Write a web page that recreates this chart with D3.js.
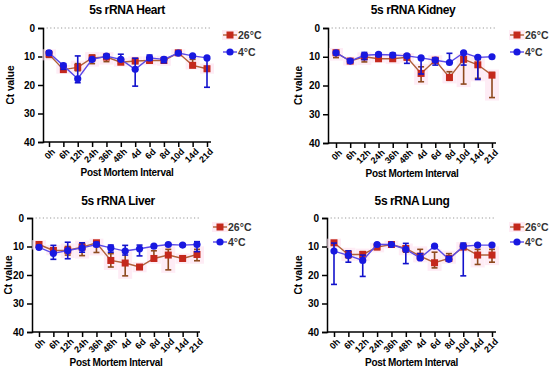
<!DOCTYPE html>
<html>
<head>
<meta charset="utf-8">
<script src="https://cdn.jsdelivr.net/npm/d3@7"></script>
<style>
  body { margin: 0; background: #fff; }
  svg { display: block; font-family: "Liberation Sans", Arial, sans-serif; }
</style>
</head>
<body>
<svg id="chart" width="550" height="371"></svg>
<script>
// categories and ticks
const categories = ['0h', '6h', '12h', '24h', '36h', '48h', '4d', '6d', '8d', '10d', '14d', '21d'];
const yTicks = [0, 10, 20, 30, 40];
const seriesNames = ['26°C', '4°C'];

// heart
const heartWarm = [9.2, 14.6, 13.8, 10.5, 10.2, 12.0, 11.6, 11.4, 11.4, 8.7, 13.1, 14.3];
const heartWarmLo = [8.5, 14.0, 12.5, 9.5, 9.5, 11.5, 11.0, 11.0, 10.8, 8.5, 11.0, 13.5];
const heartWarmHi = [10.3, 15.0, 15.0, 12.5, 11.8, 12.5, 12.0, 12.0, 12.2, 9.0, 13.5, 15.0];
const heartCold = [8.7, 13.2, 17.8, 11.0, 9.9, 11.0, 14.5, 10.5, 11.0, 8.8, 9.8, 10.5];
const heartColdLo = [8.0, 12.5, 9.8, 10.5, 9.3, 9.2, 10.6, 9.5, 10.3, 8.5, 9.5, 10.5];
const heartColdHi = [9.5, 14.5, 19.2, 11.5, 10.5, 11.5, 20.4, 11.3, 12.2, 9.2, 10.2, 20.8];

// kidney
const kidneyWarm = [8.6, 11.5, 10.0, 10.7, 10.7, 10.2, 15.8, 11.2, 17.2, 10.9, 12.8, 16.4];
const kidneyWarmLo = [8.0, 11.0, 9.5, 10.0, 10.0, 9.8, 13.5, 10.5, 15.2, 10.0, 11.0, 15.5];
const kidneyWarmHi = [10.3, 12.0, 11.8, 11.0, 11.5, 11.0, 18.7, 12.0, 18.2, 19.5, 17.5, 24.2];
const kidneyCold = [8.6, 11.5, 9.5, 9.2, 9.4, 9.7, 10.4, 11.2, 12.0, 8.6, 10.2, 10.0];
const kidneyColdLo = [8.2, 11.0, 8.5, 8.7, 8.7, 9.3, 10.4, 10.5, 8.8, 8.3, 10.2, 9.7];
const kidneyColdHi = [9.0, 12.0, 11.0, 9.7, 10.2, 12.3, 16.0, 12.9, 12.0, 12.9, 17.9, 10.3];

// liver
const liverWarm = [9.3, 11.4, 11.3, 10.2, 8.7, 14.9, 15.8, 17.2, 14.2, 13.0, 14.2, 12.8];
const liverWarmLo = [8.8, 10.5, 10.0, 9.0, 8.3, 12.5, 12.0, 16.5, 11.5, 11.0, 13.5, 11.0];
const liverWarmHi = [10.0, 12.0, 13.0, 13.2, 12.1, 17.2, 20.3, 18.0, 15.0, 18.2, 15.0, 15.0];
const liverCold = [10.3, 12.4, 11.4, 10.5, 9.3, 10.5, 11.6, 10.8, 9.9, 9.3, 9.5, 9.3];
const liverColdLo = [9.6, 9.6, 8.5, 8.7, 8.5, 9.5, 9.6, 9.5, 9.6, 9.0, 9.1, 8.3];
const liverColdHi = [10.8, 14.5, 14.3, 12.0, 10.0, 12.0, 13.0, 13.3, 10.2, 9.6, 9.9, 11.8];

// lung
const lungWarm = [8.7, 12.8, 12.8, 10.2, 9.3, 10.7, 13.4, 15.7, 14.2, 10.2, 13.0, 13.0];
const lungWarmLo = [8.3, 11.5, 11.8, 9.8, 9.0, 10.0, 11.0, 12.0, 12.5, 9.5, 11.0, 11.0];
const lungWarmHi = [9.5, 14.0, 14.0, 11.0, 9.6, 12.0, 14.5, 17.5, 15.0, 11.0, 16.3, 15.5];
const lungCold = [11.6, 13.1, 14.9, 9.3, 9.3, 11.0, 14.0, 9.9, 14.5, 9.9, 9.5, 9.5];
const lungColdLo = [8.8, 11.5, 13.0, 9.0, 9.0, 8.9, 12.5, 9.6, 13.5, 8.8, 9.2, 9.2];
const lungColdHi = [23.3, 15.5, 20.5, 9.6, 9.6, 16.0, 14.5, 10.2, 15.0, 20.3, 9.8, 9.8];

const COLORS = {
	warm: {marker: '#c4281c', line: '#b0603a', err: '#8e4a1e'},
	cold: {marker: '#1818e0', line: '#5a4ae8', err: '#1212cc'}
};
const FONT = '"Liberation Sans", Arial, sans-serif';

const panels = [
	{title: '5s rRNA Heart', left: 43, right: 211, top: 28, bottom: 142, first: 49, last: 207,
		titleX: 127, titleY: 14, labelX: 10, legX: 230, legY: 35, legGap: 17,
		warm: [heartWarm, heartWarmLo, heartWarmHi], cold: [heartCold, heartColdLo, heartColdHi]},
	{title: '5s rRNA Kidney', left: 328, right: 496, top: 28, bottom: 143, first: 336, last: 492,
		titleX: 413, titleY: 14, labelX: 298, legX: 517, legY: 35, legGap: 17,
		warm: [kidneyWarm, kidneyWarmLo, kidneyWarmHi], cold: [kidneyCold, kidneyColdLo, kidneyColdHi]},
	{title: '5s rRNA Liver', left: 32, right: 200, top: 218, bottom: 332, first: 39, last: 197,
		titleX: 118, titleY: 205, labelX: 8, legX: 220, legY: 227, legGap: 15,
		warm: [liverWarm, liverWarmLo, liverWarmHi], cold: [liverCold, liverColdLo, liverColdHi]},
	{title: '5s rRNA Lung', left: 327, right: 496, top: 218, bottom: 332, first: 334, last: 492,
		titleX: 412, titleY: 205, labelX: 298, legX: 517, legY: 227, legGap: 15,
		warm: [lungWarm, lungWarmLo, lungWarmHi], cold: [lungCold, lungColdLo, lungColdHi]}
];

const svg = d3.select('#chart');

function marker(g, kind, x, y) {
	if (kind === 'warm') {
		g.append('rect').attr('x', x - 3.5).attr('y', y - 3.5)
			.attr('width', 7).attr('height', 7)
			.attr('fill', COLORS.warm.marker);
	} else {
		g.append('circle').attr('cx', x).attr('cy', y).attr('r', 3.6)
			.attr('fill', COLORS.cold.marker);
	}
}

function drawSeries(g, x, y, kind, [vals, lo, hi]) {
	const c = COLORS[kind];

	if (kind === 'warm') {
		// soft pink halo seen around the red points
		categories.forEach((cat, i) => {
			g.append('rect')
				.attr('x', x(cat) - 7).attr('width', 14)
				.attr('y', y(lo[i]) - 3).attr('height', y(hi[i]) - y(lo[i]) + 6)
				.attr('fill', '#fde0ee').attr('opacity', 0.6);
		});
	}

	const line = d3.line().x((d, i) => x(categories[i])).y(d => y(d));
	g.append('path').datum(vals)
		.attr('d', line)
		.attr('fill', 'none')
		.attr('stroke', c.line)
		.attr('stroke-width', 1.4);

	categories.forEach((cat, i) => {
		const cx = x(cat);
		const y1 = y(lo[i]), y2 = y(hi[i]);
		g.append('line').attr('x1', cx).attr('x2', cx).attr('y1', y1).attr('y2', y2)
			.attr('stroke', c.err).attr('stroke-width', 1.6);
		[y1, y2].forEach(yy => {
			g.append('line').attr('x1', cx - 3).attr('x2', cx + 3).attr('y1', yy).attr('y2', yy)
				.attr('stroke', c.err).attr('stroke-width', 1.6);
		});
	});

	vals.forEach((v, i) => marker(g, kind, x(categories[i]), y(v)));
}

panels.forEach(p => {
	const g = svg.append('g');
	const x = d3.scalePoint().domain(categories).range([p.first, p.last]);
	const y = d3.scaleLinear().domain([0, 40]).range([p.top, p.bottom]);

	// dotted zero line
	g.append('line')
		.attr('x1', p.left).attr('x2', p.right)
		.attr('y1', y(0)).attr('y2', y(0))
		.attr('stroke', '#9a9a9a').attr('stroke-width', 1.2)
		.attr('stroke-dasharray', '1.2,2.4');

	// y axis
	const yAxis = g.append('g')
		.attr('transform', `translate(${p.left},0)`)
		.call(d3.axisLeft(y).tickValues(yTicks).tickSize(5).tickPadding(3));
	yAxis.select('.domain').attr('stroke', '#000').attr('stroke-width', 1.5);
	yAxis.selectAll('.tick line').attr('stroke', '#000').attr('stroke-width', 1.5);
	yAxis.selectAll('.tick text')
		.attr('font-size', 10).attr('font-weight', 'bold').attr('fill', '#000')
		.attr('font-family', FONT);

	// x axis
	const xAxis = g.append('g')
		.attr('transform', `translate(0,${p.bottom})`)
		.call(d3.axisBottom(x).tickSize(5).tickSizeOuter(0));
	xAxis.select('.domain')
		.attr('d', `M${p.left},0H${p.right}`)
		.attr('stroke', '#000').attr('stroke-width', 1.5);
	xAxis.selectAll('.tick line').attr('stroke', '#000').attr('stroke-width', 1.5);
	xAxis.selectAll('.tick text')
		.attr('font-size', 9).attr('font-weight', 'bold').attr('fill', '#000')
		.attr('font-family', FONT)
		.attr('text-anchor', 'end')
		.attr('x', 0).attr('y', 0)
		.attr('dy', '0.35em')
		.attr('transform', 'translate(4,8) rotate(-45)');

	// titles and labels
	g.append('text')
		.attr('x', p.titleX).attr('y', p.titleY)
		.attr('text-anchor', 'middle')
		.attr('font-size', 12).attr('font-weight', 'bold')
		.attr('letter-spacing', -0.4)
		.text(p.title);

	g.append('text')
		.attr('x', (p.left + p.right) / 2).attr('y', p.bottom + 34)
		.attr('text-anchor', 'middle')
		.attr('font-size', 10).attr('font-weight', 'bold')
		.attr('letter-spacing', -0.3)
		.text('Post Mortem Interval');

	g.append('text')
		.attr('transform', `translate(${p.labelX + 4},${(p.top + p.bottom) / 2}) rotate(-90)`)
		.attr('text-anchor', 'middle')
		.attr('font-size', 10).attr('font-weight', 'bold')
		.text('Ct value');

	drawSeries(g, x, y, 'warm', p.warm);
	drawSeries(g, x, y, 'cold', p.cold);

	// legend
	['warm', 'cold'].forEach((kind, i) => {
		const ly = p.legY + i * p.legGap;
		if (kind === 'warm') {
			g.append('rect').attr('x', p.legX - 8).attr('y', ly - 5)
				.attr('width', 16).attr('height', 10)
				.attr('fill', '#fde0ee').attr('opacity', 0.6);
		}
		g.append('line')
			.attr('x1', p.legX - 7).attr('x2', p.legX + 7)
			.attr('y1', ly).attr('y2', ly)
			.attr('stroke', COLORS[kind].line).attr('stroke-width', 1.4);
		marker(g, kind, p.legX, ly);
		g.append('text')
			.attr('x', p.legX + 8).attr('y', ly + 4)
			.attr('font-size', 10.5).attr('font-weight', 'bold')
			.attr('fill', '#333')
			.text(seriesNames[i]);
	});
});
</script>
</body>
</html>
